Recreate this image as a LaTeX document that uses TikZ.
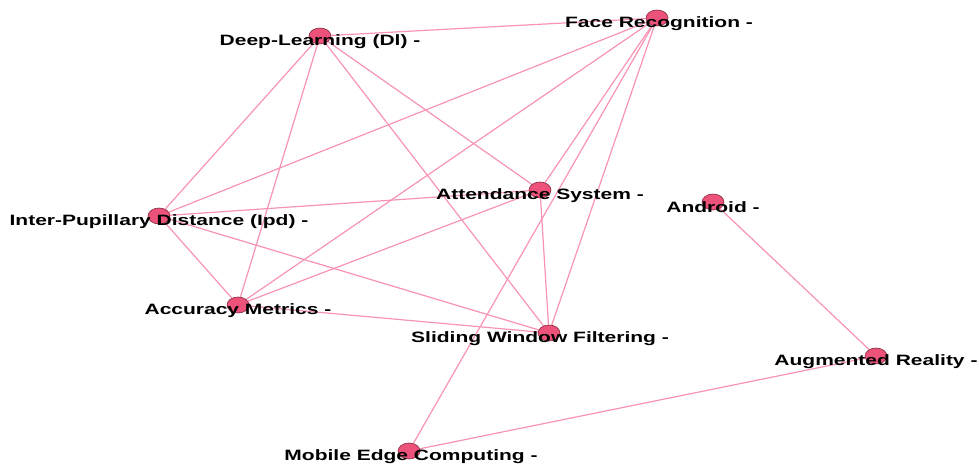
\documentclass[tikz,border=0pt]{standalone}
\usepackage{fontspec}
\usepackage{graphicx}
\setmainfont{Liberation Sans}
\usetikzlibrary{shapes.geometric,backgrounds}
\definecolor{edgepink}{RGB}{248,148,178}
\definecolor{dotfill}{RGB}{236,82,122}
\definecolor{dotline}{RGB}{130,40,60}
\newcommand\stretched[1]{\scalebox{1.40}[1]{#1}}
\tikzset{
  topic/.style={ellipse, minimum width=22pt, minimum height=16pt, inner sep=0pt,
    fill=dotfill, draw=dotline, line width=0.6pt},
  topiclabel/.style={font=\fontsize{15}{15}\selectfont\bfseries, yshift=-5.5pt, inner sep=0pt},
  link/.style={draw=edgepink, line width=1.2pt},
}
\begin{document}
\begin{tikzpicture}[x=1pt,y=-1pt]
  \useasboundingbox (0,0) rectangle (979,465);
  % topics
  \node[topic, label={[topiclabel]center:\stretched{Deep-Learning (Dl) -}}] (dl) at (320,36) {};
  \node[topic, label={[topiclabel,xshift=2pt]center:\stretched{Face Recognition -}}] (fr) at (657,18) {};
  \node[topic, label={[topiclabel]center:\stretched{Inter-Pupillary Distance (Ipd) -}}] (ipd) at (159,216) {};
  \node[topic, label={[topiclabel]center:\stretched{Attendance System -}}] (as) at (540,190) {};
  \node[topic, label={[topiclabel]center:\stretched{Android -}}] (android) at (713,202) {};
  \node[topic, label={[topiclabel]center:\stretched{Accuracy Metrics -}}] (am) at (238,305) {};
  \node[topic, label={[topiclabel,xshift=-9pt]center:\stretched{Sliding Window Filtering -}}] (swf) at (549,333) {};
  \node[topic, label={[topiclabel]center:\stretched{Augmented Reality -}}] (ar) at (876,356) {};
  \node[topic, label={[topiclabel,xshift=2pt]center:\stretched{Mobile Edge Computing -}}] (mec) at (409,451) {};
  % co-occurrence links
  \begin{scope}[on background layer]
    \foreach \a/\b in {dl/fr, dl/ipd, dl/am, dl/as, dl/swf,
                       fr/ipd, fr/am, fr/as, fr/swf, fr/mec,
                       ipd/as, ipd/am, ipd/swf, am/as, am/swf, as/swf,
                       android/ar, ar/mec}
      \draw[link] (\a) -- (\b);
  \end{scope}
\end{tikzpicture}
\end{document}
